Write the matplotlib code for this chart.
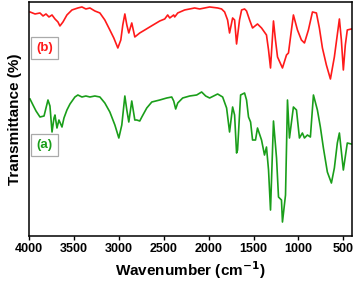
import matplotlib
matplotlib.use('Agg')

import matplotlib.pyplot as plt

# Spectrum (b) - red
wn_b = [3989, 3933, 3878, 3844, 3811, 3778, 3744, 3711, 3678, 3656, 3622, 3578,
        3522, 3456, 3411, 3367, 3322, 3267, 3211, 3156, 3100, 3056, 3011, 2978,
        2956, 2933, 2911, 2889, 2856, 2822, 2767, 2711, 2656, 2600, 2544, 2489,
        2456, 2433, 2389, 2378, 2344, 2267, 2211, 2156, 2100, 2044, 1989, 1900,
        1856, 1822, 1789, 1767, 1733, 1711, 1689, 1656, 1633, 1600, 1578, 1544,
        1511, 1456, 1411, 1356, 1333, 1311, 1278, 1256, 1233, 1178, 1133, 1111,
        1078, 1056, 1011, 967, 933, 889, 844, 800, 767, 733, 689, 644,
        600, 544, 522, 500, 478, 456, 411]
T_b = [228, 226, 227, 224, 226, 223, 225, 221, 218, 214, 218, 225,
       230, 232, 233, 231, 232, 229, 227, 220, 210, 202, 192, 200,
       215, 226, 215, 207, 217, 203, 207, 210, 213, 216, 219, 221,
       225, 222, 225, 223, 227, 230, 231, 232, 231, 232, 233, 232,
       231, 228, 220, 207, 222, 220, 196, 220, 230, 231, 229, 220,
       212, 216, 212, 205, 190, 172, 219, 200, 183, 172, 185, 187,
       210, 225, 210, 200, 197, 210, 228, 227, 212, 192, 175, 161,
       183, 221, 200, 170, 195, 210, 211]

# Spectrum (a) - green
wn_a = [3989, 3956, 3922, 3878, 3833, 3811, 3789, 3767, 3744, 3722, 3711, 3689,
        3667, 3633, 3611, 3578, 3544, 3489, 3456, 3411, 3367, 3322, 3267, 3211,
        3156, 3100, 3044, 3000, 2967, 2933, 2911, 2889, 2856, 2822, 2800, 2767,
        2744, 2689, 2633, 2544, 2467, 2411, 2389, 2367, 2344, 2289, 2211, 2133,
        2078, 2033, 1989, 1900, 1844, 1800, 1767, 1733, 1711, 1689, 1678, 1644,
        1600, 1578, 1556, 1533, 1511, 1478, 1456, 1411, 1378, 1356, 1333, 1311,
        1278, 1244, 1222, 1189, 1178, 1144, 1122, 1100, 1056, 1022, 989, 956,
        933, 900, 867, 833, 789, 756, 722, 678, 633, 600, 567, 544,
        500, 456, 411]
T_a = [141, 135, 129, 123, 124, 132, 140, 134, 108, 122, 125, 112,
       120, 113, 122, 130, 136, 143, 145, 143, 144, 143, 144, 143,
       137, 128, 115, 102, 115, 144, 130, 118, 139, 120, 120, 119,
       123, 132, 138, 140, 142, 143, 139, 131, 137, 142, 144, 145,
       148, 144, 142, 146, 143, 132, 108, 133, 125, 87, 90, 145,
       147, 140, 123, 118, 100, 100, 112, 100, 85, 93, 70, 30,
       119, 82, 43, 40, 18, 45, 140, 102, 133, 130, 102, 107,
       102, 105, 103, 145, 130, 113, 92, 68, 57, 72, 97, 107,
       70, 97, 96]

xticks = [4000, 3500, 3000, 2500, 2000, 1500, 1000, 500]

plt.rcParams['font.family'] = ['Liberation Sans', 'DejaVu Sans']
plt.rcParams['font.weight'] = 'bold'

fig = plt.figure(figsize=(3.54, 2.81), dpi=100)
ax = fig.add_axes([0.082, 0.16, 0.912, 0.833])

ax.plot(wn_b, T_b, color='#ff1a1a', lw=1.2)
ax.plot(wn_a, T_a, color='#1a9e1a', lw=1.2)

ax.set_xlim(4000, 405)
ax.set_ylim(4, 238)
ax.set_xticks(xticks)
ax.set_xticklabels([str(t) for t in xticks], fontsize=9, fontweight='bold')
ax.set_yticks([])
ax.tick_params(axis='x', direction='out', length=3, width=1, pad=2)
for s in ax.spines.values():
    s.set_linewidth(1.1)

ax.set_xlabel('Wavenumber (cm$^{\\mathbf{-1}}$)', fontsize=11, fontweight='bold', labelpad=3)
ax.set_ylabel('Transmittance (%)', fontsize=11, fontweight='bold', labelpad=5)

box = dict(boxstyle='square,pad=0.4', fc='white', ec='#aaaaaa', lw=0.9)
ax.text(3825, 192, '(b)', color='#ff1a1a', fontsize=9.5, fontweight='bold',
        ha='center', va='center', bbox=box)
ax.text(3825, 95, '(a)', color='#1a9e1a', fontsize=9.5, fontweight='bold',
        ha='center', va='center', bbox=box)

fig.savefig('out.png', dpi=100)
plt.close(fig)
